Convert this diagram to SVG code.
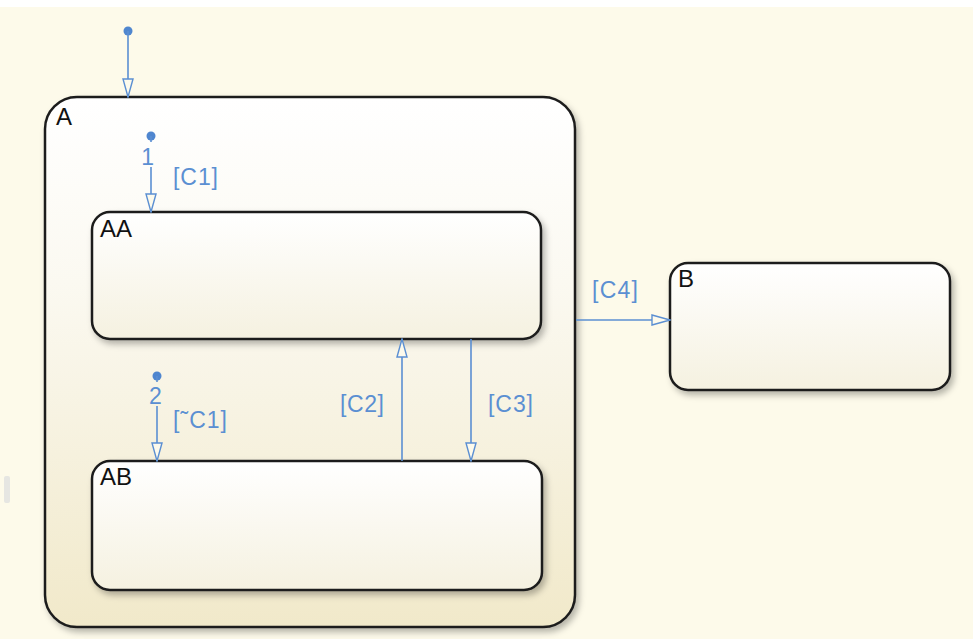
<svg xmlns="http://www.w3.org/2000/svg" width="977" height="639" viewBox="0 0 977 639">
<defs>
<linearGradient id="gA" x1="0" y1="0" x2="0" y2="1">
<stop offset="0" stop-color="#ffffff"/>
<stop offset="0.35" stop-color="#fbf9f1"/>
<stop offset="1" stop-color="#f1e9ca"/>
</linearGradient>
<linearGradient id="gS" x1="0" y1="0" x2="0" y2="1">
<stop offset="0" stop-color="#ffffff"/>
<stop offset="1" stop-color="#f5f1e0"/>
</linearGradient>
<filter id="sh" x="-10%" y="-10%" width="120%" height="130%">
<feDropShadow dx="3" dy="4" stdDeviation="3" flood-color="#000" flood-opacity="0.28"/>
</filter>
<marker id="arr" viewBox="0 0 20 12" refX="19" refY="6" markerWidth="20" markerHeight="12" markerUnits="userSpaceOnUse" orient="auto">
<path d="M1,1 L19,6 L1,11 Z" fill="#fdfaec" stroke="#5b8fd2" stroke-width="1.4"/>
</marker>
</defs>
<style>
.st{stroke:#1e1e1e;stroke-width:2.5}
.nm{font-family:"Liberation Sans",Arial,sans-serif;font-size:24px;fill:#111}
.tr{fill:none;stroke:#5b8fd2;stroke-width:1.6}
.lb{font-family:"Liberation Sans",Arial,sans-serif;font-size:23px;fill:#5b8fd2}
.dot{fill:#4f86cf}
</style>
<rect x="0" y="0" width="977" height="639" fill="#ffffff"/>
<rect x="0" y="7" width="973" height="632" fill="#fdfaea"/>
<rect x="4" y="476" width="6" height="27" rx="2" fill="#e6e6e2"/>

<g id="A">
<rect x="45" y="97" width="530" height="530" rx="32" class="st" fill="url(#gA)" filter="url(#sh)"/>
<text x="56" y="125" class="nm">A</text>
</g>
<g id="AA">
<rect x="92" y="212" width="449" height="127" rx="18" class="st" fill="url(#gS)" filter="url(#sh)"/>
<text x="100" y="237" class="nm">AA</text>
</g>
<g id="AB">
<rect x="92" y="461" width="450" height="129" rx="18" class="st" fill="url(#gS)" filter="url(#sh)"/>
<text x="100" y="485" class="nm">AB</text>
</g>
<g id="B">
<rect x="670" y="263" width="280" height="127" rx="18" class="st" fill="url(#gS)" filter="url(#sh)"/>
<text x="678" y="287" class="nm">B</text>
</g>

<g id="connectors">
<circle cx="128" cy="31" r="4.5" class="dot"/>
<path d="M128,31 L128,97" class="tr" marker-end="url(#arr)"/>

<circle cx="151" cy="136" r="4.5" class="dot"/>
<path d="M151,136 L151,142" class="tr"/>
<path d="M151,167 L151,212" class="tr" marker-end="url(#arr)"/>
<text x="154" y="165" class="lb" font-size="20" text-anchor="end">1</text>
<text x="173" y="185" class="lb" textLength="45" lengthAdjust="spacing">[C1]</text>

<circle cx="157" cy="376" r="4.5" class="dot"/>
<path d="M157,376 L157,382" class="tr"/>
<path d="M157,406 L157,461" class="tr" marker-end="url(#arr)"/>
<text x="155.5" y="404" class="lb" font-size="20" text-anchor="middle">2</text>
<text x="173" y="428" class="lb" textLength="54" lengthAdjust="spacing">[˜C1]</text>

<path d="M402,461 L402,339" class="tr" marker-end="url(#arr)"/>
<text x="340" y="412" class="lb" textLength="44" lengthAdjust="spacing">[C2]</text>

<path d="M471,339 L471,461" class="tr" marker-end="url(#arr)"/>
<text x="488" y="412" class="lb" textLength="45" lengthAdjust="spacing">[C3]</text>

<path d="M576,320 L670,320" class="tr" marker-end="url(#arr)"/>
<text x="592" y="298" class="lb" textLength="46" lengthAdjust="spacing">[C4]</text>
</g>
</svg>
